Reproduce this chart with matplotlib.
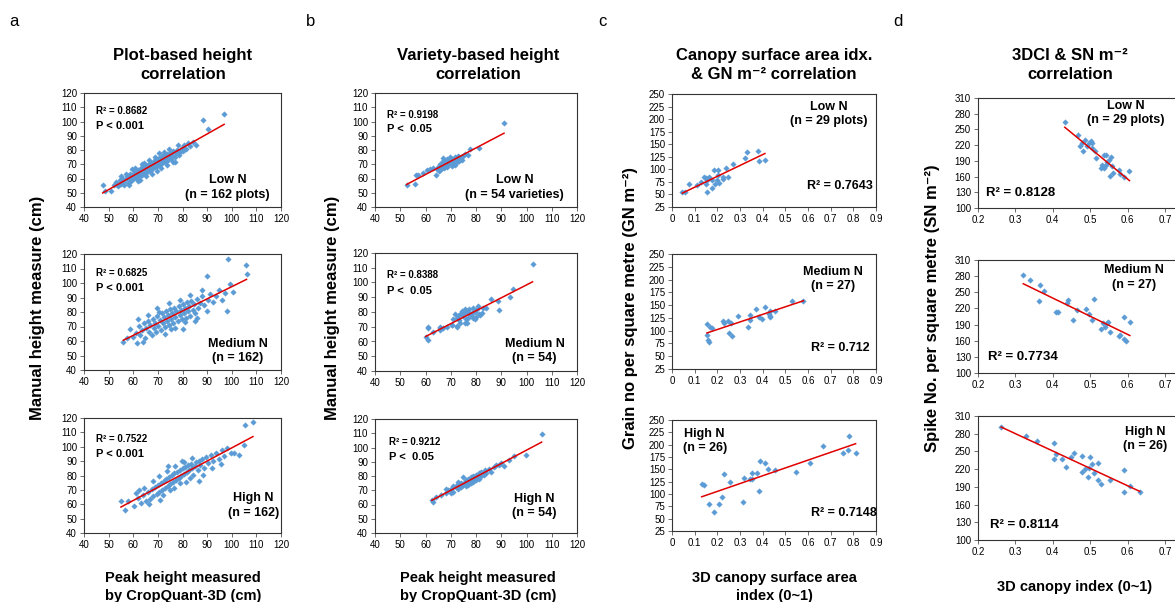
import numpy as np
import matplotlib.pyplot as plt

plt.rcParams['font.family'] = ['Liberation Sans', 'DejaVu Sans']

# ---- column a : plot-based height (x = CropQuant-3D, y = manual) ----
a_low_x = [47.6, 48.5, 50.8, 52.0, 53.1, 53.8, 54.5, 55.2, 55.6, 56.0, 56.4, 56.9, 57.3, 57.8, 58.1, 58.6, 59.0, 59.3,
           59.8, 60.1, 60.4, 60.9, 61.2, 61.6, 62.0, 62.3, 62.7, 63.0, 63.4, 63.8, 64.1, 64.5, 64.8, 65.2, 65.5, 65.9,
           66.2, 66.6, 66.9, 67.3, 67.6, 68.0, 68.3, 68.7, 69.0, 69.4, 69.7, 70.1, 70.4, 70.8, 71.1, 71.5, 71.8, 72.2,
           72.5, 72.9, 73.2, 73.6, 74.0, 74.4, 74.8, 75.3, 75.7, 76.2, 76.8, 77.3, 77.9, 78.5, 79.1, 79.6, 80.2, 80.8,
           81.5, 82.3, 83.2, 84.1, 85.3, 88.2, 90.2, 96.9, 58.4, 61.8, 65.1, 69.5, 73.8, 64.4, 60.7, 57.2, 76.0, 71.2,
           67.7, 62.6, 66.4, 70.6, 74.6, 78.0, 55.0, 59.5, 63.6, 68.9, 72.3, 77.1]
a_low_y = [55.4, 51.0, 51.2, 55.5, 57.8, 54.6, 58.9, 56.1, 60.3, 57.7, 55.2, 59.4, 61.6, 56.8, 60.2, 62.9, 58.3, 61.1,
           63.5, 59.7, 62.4, 65.0, 60.6, 63.3, 66.1, 61.4, 64.2, 67.3, 62.5, 65.4, 68.0, 63.6, 66.5, 69.2, 64.7, 67.6,
           70.4, 65.5, 68.7, 71.1, 66.4, 69.5, 72.2, 67.8, 70.6, 73.4, 68.9, 71.5, 74.3, 69.6, 72.6, 75.5, 70.8, 73.7,
           76.4, 71.9, 74.8, 77.2, 72.7, 75.6, 78.0, 73.9, 76.8, 79.1, 74.8, 77.6, 80.2, 76.3, 78.9, 81.5, 79.6, 83.4,
           80.9, 84.6, 82.7, 85.3, 83.8, 101.0, 94.5, 105.0, 55.6, 57.9, 61.8, 65.3, 69.7, 71.2, 67.1, 63.4, 71.9, 67.5,
           63.4, 59.0, 73.3, 77.6, 80.8, 83.2, 62.0, 66.5, 70.4, 75.2, 78.9, 71.8]

a_med_x = [56.0, 57.5, 58.7, 59.8, 61.4, 61.0, 62.3, 62.9, 63.5, 64.2, 64.8, 65.3, 65.9, 66.4, 66.9, 67.5, 68.0, 68.4,
           68.9, 69.3, 69.8, 70.2, 70.7, 71.1, 71.6, 72.0, 72.4, 72.9, 73.3, 73.7, 74.1, 74.6, 75.0, 75.4, 75.8, 76.3,
           76.7, 77.1, 77.5, 78.0, 78.4, 78.8, 79.2, 79.7, 80.1, 80.5, 80.9, 81.4, 81.8, 82.2, 82.7, 83.1, 83.6, 84.1,
           84.6, 85.2, 85.8, 86.4, 87.1, 87.8, 88.6, 89.8, 90.5, 91.3, 92.4, 93.6, 94.7, 96.0, 97.1, 98.0, 98.4, 99.2,
           100.4, 105.8, 106.0, 70.3, 66.0, 72.7, 77.0, 80.3, 74.5, 79.0, 83.0, 64.0, 86.0, 69.5, 75.2, 81.2, 84.9,
           62.0, 90.0, 88.0]
a_med_y = [59.5, 62.0, 68.0, 63.1, 58.4, 65.6, 70.2, 64.0, 67.4, 72.5, 61.8, 69.3, 74.1, 66.2, 71.0, 63.8, 75.2, 68.7,
           72.6, 65.9, 77.0, 70.5, 74.3, 67.8, 79.1, 72.2, 76.3, 69.4, 80.4, 74.0, 77.8, 71.0, 82.0, 75.5, 79.2, 72.3,
           83.1, 76.8, 80.6, 73.6, 84.3, 78.0, 81.7, 75.0, 85.6, 79.3, 82.9, 76.2, 86.7, 80.4, 84.1, 77.4, 87.9, 81.6,
           85.2, 79.0, 89.0, 83.0, 86.5, 90.8, 84.6, 105.0, 88.3, 92.7, 86.9, 91.0, 95.2, 88.0, 93.4, 81.0, 116.8, 99.5,
           94.0, 112.2, 106.0, 80.3, 78.0, 64.5, 69.0, 68.0, 86.0, 88.5, 91.5, 59.0, 76.0, 82.5, 68.0, 73.2, 74.0,
           75.0, 81.0, 95.0]

a_high_x = [55.0, 56.5, 58.0, 60.2, 62.0, 63.1, 64.0, 65.2, 66.0, 66.8, 67.5, 68.2, 68.8, 69.5, 70.0, 70.6, 71.2, 71.8,
            72.3, 72.9, 73.4, 74.0, 74.5, 75.1, 75.6, 76.2, 76.7, 77.3, 77.8, 78.4, 78.9, 79.5, 80.0, 80.6, 81.1, 81.7,
            82.2, 82.8, 83.3, 83.9, 84.4, 85.0, 85.5, 86.1, 86.6, 87.2, 88.0, 88.8, 89.6, 90.5, 91.5, 92.5, 93.6, 94.8,
            96.0, 97.0, 98.2, 99.5, 101.0, 103.0, 104.9, 105.2, 108.6, 70.3, 73.8, 77.0, 80.8, 75.0, 79.0, 83.0, 68.0,
            72.0, 76.5, 66.5, 64.5, 61.0, 88.5, 84.0, 79.8, 86.5, 92.0, 95.5, 74.3, 70.8, 81.5, 62.5]
a_high_y = [62.5, 56.2, 62.0, 58.5, 64.4, 60.8, 66.7, 62.1, 68.5, 64.0, 70.4, 65.5, 72.3, 67.0, 73.5, 68.8, 75.0, 70.2,
            76.4, 71.5, 77.8, 73.0, 79.0, 74.4, 80.2, 75.8, 81.5, 77.0, 82.6, 78.4, 83.8, 79.7, 85.0, 81.1, 86.0, 82.4,
            87.2, 83.8, 88.3, 85.0, 80.6, 86.6, 89.4, 84.0, 90.3, 87.5, 91.5, 85.5, 93.0, 88.5, 94.5, 90.2, 96.0, 91.8,
            97.5, 93.6, 99.0, 95.4, 96.0, 94.0, 101.5, 115.0, 117.0, 79.8, 83.0, 86.5, 89.5, 70.0, 74.5, 78.2, 76.2,
            66.5, 71.0, 60.5, 71.0, 67.5, 80.2, 92.0, 90.0, 76.5, 85.0, 88.0, 86.5, 63.0, 75.5, 70.0]

# ---- column b : variety-based height ----
b_low_x = [52.5, 55.9, 56.1, 57.2, 59.2, 60.5, 61.8, 64.2, 63.1, 64.4, 65.1, 65.8, 65.8, 66.4, 66.8, 67.1, 67.7, 68.1,
           68.7, 68.7, 69.1, 69.5, 69.7, 70.0, 70.4, 70.4, 71.0, 71.7, 72.4, 73.0, 73.4, 73.7, 75.0, 75.7, 77.0, 77.6,
           81.0, 91.1, 65.5, 67.3, 68.1, 69.2, 70.0, 70.8, 71.4, 72.1, 72.6, 73.2, 74.0, 74.3, 69.5, 71.7, 68.4, 67.1]
b_low_y = [55.2, 56.1, 62.2, 62.7, 64.0, 65.7, 66.8, 62.7, 67.5, 66.8, 68.4, 70.2, 65.7, 67.5, 72.5, 74.3, 69.1, 71.4,
           73.6, 67.9, 70.2, 72.5, 75.3, 71.4, 69.1, 73.6, 72.5, 74.8, 71.4, 76.1, 72.5, 74.3, 75.9, 77.5, 76.6, 80.5,
           81.6, 98.8, 65.2, 67.5, 69.8, 72.5, 73.0, 70.7, 73.0, 74.3, 73.4, 75.3, 74.8, 73.0, 70.7, 69.8, 72.1, 70.7]

b_med_x = [102.4, 94.6, 93.5, 89.3, 88.9, 86.0, 84.0, 80.6, 79.6, 79.0, 77.4, 76.3, 74.3, 73.7, 72.4, 71.7, 75.0, 76.0,
           77.0, 78.3, 79.6, 77.6, 79.0, 75.3, 73.4, 76.6, 75.7, 70.4, 72.4, 65.8, 61.1, 80.3, 81.0, 82.3, 60.1, 61.1,
           61.1, 63.1, 65.8, 65.8, 67.1, 68.4, 70.4, 72.4, 71.0, 73.0, 74.3, 75.7, 77.0, 78.7, 80.0, 81.6, 82.9, 73.7]
b_med_y = [112.3, 95.8, 90.4, 81.4, 87.5, 88.6, 83.0, 84.1, 80.0, 83.0, 81.8, 80.7, 80.7, 78.5, 76.2, 78.5, 77.3, 75.1,
           76.2, 77.3, 75.1, 78.5, 80.0, 79.4, 74.6, 72.8, 72.4, 71.0, 70.6, 70.1, 69.5, 81.8, 78.5, 79.6, 63.2, 60.9,
           68.9, 66.6, 68.9, 67.7, 68.9, 70.0, 71.0, 70.0, 75.1, 77.3, 78.5, 81.8, 79.2, 75.6, 76.9, 77.8, 83.0, 72.8]

b_high_x = [62.5, 63.0, 64.0, 66.0, 68.0, 69.0, 70.0, 71.0, 72.0, 72.5, 73.0, 73.5, 74.0, 74.0, 75.0, 75.5, 76.0, 76.0,
            76.5, 77.0, 77.0, 77.5, 78.0, 78.0, 78.5, 79.0, 79.0, 79.5, 80.0, 80.0, 80.5, 81.0, 81.0, 82.0, 82.0, 83.0,
            83.5, 84.0, 85.0, 86.0, 87.0, 88.0, 89.3, 90.0, 91.0, 93.0, 95.0, 99.7, 106.0, 75.0, 73.0, 71.0, 70.0, 68.0]
b_high_y = [63.0, 62.0, 65.0, 67.0, 68.0, 70.0, 71.0, 69.0, 72.0, 74.0, 71.0, 73.0, 75.0, 72.0, 74.0, 76.0, 73.0, 77.0,
            75.0, 78.0, 74.0, 76.0, 79.0, 75.0, 77.0, 80.0, 76.0, 78.0, 81.0, 77.0, 79.0, 82.0, 78.0, 80.0, 83.0, 81.0,
            84.0, 82.0, 85.0, 83.0, 86.0, 88.0, 87.9, 89.0, 87.0, 91.0, 94.0, 95.0, 109.3, 79.0, 76.0, 73.0, 68.0, 71.0]

# ---- column c : canopy surface area index vs grain number ----
c_low_x = [0.046, 0.058, 0.077, 0.112, 0.151, 0.154, 0.151, 0.154, 0.165, 0.177, 0.177, 0.185, 0.197, 0.203, 0.203,
           0.208, 0.223, 0.223, 0.238, 0.246, 0.269, 0.32, 0.331, 0.38, 0.385, 0.41, 0.14, 0.19, 0.13]
c_low_y = [54, 54, 70, 69, 83, 79, 71, 54, 85, 63, 78, 98, 78, 88, 99, 73, 81, 85, 103, 85, 110, 123, 135, 136, 117,
           118, 84, 71, 74]

c_med_x = [0.154, 0.154, 0.157, 0.162, 0.169, 0.177, 0.223, 0.231, 0.246, 0.251, 0.262, 0.266, 0.292, 0.334, 0.342,
           0.346, 0.369, 0.385, 0.395, 0.411, 0.428, 0.431, 0.434, 0.454, 0.53, 0.58, 0.431]
c_med_y = [113, 92, 81, 77, 108, 106, 119, 115, 118, 96, 115, 89, 128, 108, 120, 131, 143, 126, 123, 146, 133, 139,
           126, 139, 159, 159, 128]

c_high_x = [0.131, 0.143, 0.165, 0.185, 0.208, 0.22, 0.228, 0.254, 0.315, 0.318, 0.346, 0.354, 0.377, 0.385, 0.389,
            0.411, 0.423, 0.454, 0.546, 0.608, 0.665, 0.755, 0.775, 0.78, 0.81, 0.354]
c_high_y = [120, 118, 79, 64, 79, 93, 140, 124, 84, 133, 130, 143, 142, 106, 166, 162, 151, 149, 145, 162, 197, 184,
            189, 218, 184, 131]

# ---- column d : 3D canopy index vs spike number ----
d_low_x = [0.432, 0.467, 0.473, 0.477, 0.481, 0.486, 0.491, 0.497, 0.502, 0.505, 0.506, 0.513, 0.515, 0.529, 0.532,
           0.536, 0.538, 0.541, 0.542, 0.546, 0.549, 0.552, 0.555, 0.558, 0.562, 0.578, 0.58, 0.591, 0.605]
d_low_y = [265, 240, 219, 224, 208, 230, 219, 224, 227, 225, 215, 208, 195, 176, 183, 202, 176, 183, 202, 187, 192,
           162, 198, 181, 167, 172, 164, 159, 171]

d_med_x = [0.321, 0.339, 0.365, 0.363, 0.377, 0.408, 0.414, 0.438, 0.441, 0.453, 0.464, 0.49, 0.496, 0.506, 0.51,
           0.529, 0.535, 0.54, 0.544, 0.547, 0.553, 0.578, 0.579, 0.59, 0.591, 0.596, 0.606]
d_med_y = [282, 272, 264, 234, 253, 213, 213, 230, 236, 198, 217, 219, 210, 198, 237, 181, 192, 185, 192, 194, 176,
           169, 171, 205, 163, 160, 194]

d_high_x = [0.262, 0.328, 0.357, 0.402, 0.402, 0.408, 0.424, 0.435, 0.457, 0.479, 0.479, 0.493, 0.496, 0.499, 0.504,
            0.511, 0.52, 0.521, 0.529, 0.553, 0.591, 0.591, 0.606, 0.632, 0.487, 0.448]
d_high_y = [291, 276, 267, 265, 238, 246, 238, 224, 248, 242, 215, 207, 222, 241, 229, 213, 202, 231, 194, 202, 219,
            182, 191, 182, 220, 241]

W, H = 1175, 602
fig = plt.figure(figsize=(W / 100, H / 100), dpi=100)
blue = '#5b9bd5'


def add_ax(x0, x1, y0, y1):
    # pixel box -> figure fraction
    return fig.add_axes([x0 / W, 1 - y1 / H, (x1 - x0) / W, (y1 - y0) / H])


def panel(box, x, y, xlim, ylim, xt, yt, tag, ntxt, tpos, r2, r2pos, pval=None, r2size=7, tsize=9):
    ax = add_ax(*box)
    x = np.array(x)
    y = np.array(y)
    ax.plot(x, y, 'D', color=blue, ms=2.8, mec=blue, mew=0.3, zorder=2)
    k, b = np.polyfit(x, y, 1)
    xs = np.array([x.min(), x.max()])
    ax.plot(xs, k * xs + b, color='#e00000', lw=1.1, zorder=3)
    ax.set_xlim(*xlim)
    ax.set_ylim(*ylim)
    ax.set_xticks(xt)
    ax.set_yticks(yt)
    ax.set_xticklabels([f'{v:g}' for v in xt])
    ax.tick_params(labelsize=7, length=3, width=0.6, color='#555555', pad=2)
    for s in ax.spines.values():
        s.set_linewidth(0.8)
        s.set_color('#333333')
    ax.text(tpos[0], tpos[1], tag + '\n' + ntxt, transform=ax.transAxes, ha='center', va='center',
            fontsize=tsize, fontweight='bold', linespacing=1.25)
    ax.text(r2pos[0], r2pos[1], r2, transform=ax.transAxes, ha='left', va='center',
            fontsize=r2size, fontweight='bold')
    if pval is not None:
        ax.text(r2pos[0], r2pos[1] - 0.13, pval, transform=ax.transAxes, ha='left', va='center',
                fontsize=8, fontweight='bold')
    return ax


ht = list(range(40, 121, 10))
ax_ = [84, 281]
bx_ = [375, 577]
cx_ = [672, 876]
dx_ = [978, 1175]
rows_ab = [(93, 207), (254, 370), (418, 533)]

# column a
panel((ax_[0], ax_[1], *rows_ab[0]), a_low_x, a_low_y, (40, 120), (40, 120), ht, ht,
      'Low N', '(n = 162 plots)', (0.73, 0.17), 'R² = 0.8682', (0.06, 0.84), 'P < 0.001')
panel((ax_[0], ax_[1], *rows_ab[1]), a_med_x, a_med_y, (40, 120), (40, 120), ht, ht,
      'Medium N', '(n = 162)', (0.78, 0.165), 'R² = 0.6825', (0.06, 0.84), 'P < 0.001')
panel((ax_[0], ax_[1], *rows_ab[2]), a_high_x, a_high_y, (40, 120), (40, 120), ht, ht,
      'High N', '(n = 162)', (0.86, 0.24), 'R² = 0.7522', (0.06, 0.82), 'P < 0.001')

# column b
panel((bx_[0], bx_[1], 93, 207), b_low_x, b_low_y, (40, 120), (40, 120), ht, ht,
      'Low N', '(n = 54 varieties)', (0.69, 0.17), 'R² = 0.9198', (0.06, 0.81), 'P <  0.05')
panel((bx_[0], bx_[1], 253, 371), b_med_x, b_med_y, (40, 120), (40, 120), ht, ht,
      'Medium N', '(n = 54)', (0.79, 0.17), 'R² = 0.8388', (0.06, 0.81), 'P <  0.05')
panel((bx_[0], bx_[1], 419, 533), b_high_x, b_high_y, (40, 120), (40, 120), ht, ht,
      'High N', '(n = 54)', (0.79, 0.24), 'R² = 0.9212', (0.07, 0.80), 'P <  0.05')

# column c
ct = [round(0.1 * i, 1) for i in range(10)]
cy = list(range(25, 251, 25))
panel((cx_[0], cx_[1], 94, 207), c_low_x, c_low_y, (0, 0.9), (25, 250), ct, cy,
      'Low N', '(n = 29 plots)', (0.77, 0.82), 'R² = 0.7643', (0.66, 0.19), r2size=9)
panel((cx_[0], cx_[1], 254, 369), c_med_x, c_med_y, (0, 0.9), (25, 250), ct, cy,
      'Medium N', '(n = 27)', (0.79, 0.78), 'R² = 0.712', (0.68, 0.18), r2size=9)
panel((cx_[0], cx_[1], 420, 531), c_high_x, c_high_y, (0, 0.9), (25, 250), ct, cy,
      'High N', '(n = 26)', (0.16, 0.81), 'R² = 0.7148', (0.68, 0.16), r2size=9)

# column d
dt = [0.2, 0.3, 0.4, 0.5, 0.6, 0.7]
dy = list(range(100, 311, 30))
dxlim = (0.2, 0.2 + (dx_[1] - dx_[0]) / 374)
for box, xx, yy, tag, nt, tp, r2, rp in [
        ((dx_[0], dx_[1], 98, 208), d_low_x, d_low_y, 'Low N', '(n = 29 plots)', (0.75, 0.865), 'R² = 0.8128', (0.04, 0.135)),
        ((dx_[0], dx_[1], 260, 373), d_med_x, d_med_y, 'Medium N', '(n = 27)', (0.79, 0.845), 'R² = 0.7734', (0.05, 0.14)),
        ((dx_[0], dx_[1], 416, 540), d_high_x, d_high_y, 'High N', '(n = 26)', (0.85, 0.815), 'R² = 0.8114', (0.06, 0.12))]:
    ax = panel(box, xx, yy, dxlim, (100, 310), dt, dy, tag, nt, tp, r2, rp, r2size=9.5)
    ax.spines['right'].set_visible(False)

# panel letters and titles
for lx, l in [(14, 'a'), (311, 'b'), (602, 'c'), (898, 'd')]:
    fig.text(lx / W, 1 - 22 / H, l, fontsize=12, ha='center', va='center')

titles = [(183, 'Plot-based height\ncorrelation'),
          (478, 'Variety-based height\ncorrelation'),
          (774, 'Canopy surface area idx.\n& GN m⁻² correlation'),
          (1070, '3DCI & SN m⁻²\ncorrelation')]
for tx, t in titles:
    fig.text(tx / W, 1 - 65 / H, t, fontsize=12, fontweight='bold', ha='center', va='center', linespacing=1.4)

ylabs = [(38, 'Manual height measure (cm)'), (333, 'Manual height measure (cm)'),
         (630, 'Grain no per square metre (GN m⁻²)'), (932, 'Spike No. per square metre (SN m⁻²)')]
for yx, t in ylabs:
    fig.text(yx / W, 1 - 308 / H, t, fontsize=12, fontweight='bold', rotation=90, ha='center', va='center')

xlabs = [(183, 'Peak height measured\nby CropQuant-3D (cm)'), (478, 'Peak height measured\nby CropQuant-3D (cm)'),
         (774, '3D canopy surface area\nindex (0~1)'), (1075, '3D canopy index (0~1)')]
for xx_, t in xlabs:
    fig.text(xx_ / W, 1 - 587 / H, t, fontsize=10.5, fontweight='bold', ha='center', va='center', linespacing=1.4)

fig.savefig('out.png', dpi=100)
